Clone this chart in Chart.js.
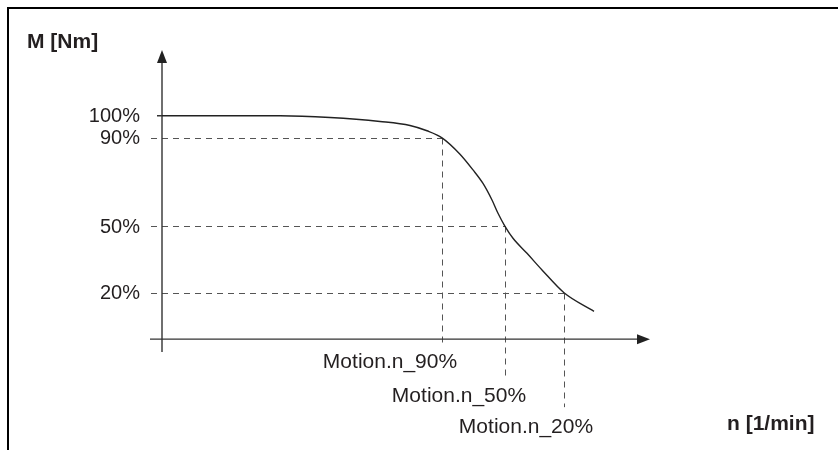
<!DOCTYPE html>
<html>
<head>
<meta charset="utf-8">
<script src="https://cdn.jsdelivr.net/npm/chart.js@4/dist/chart.umd.min.js"></script>
<style>
  body { margin: 0; background: #fff; }
  canvas { display: block; }
</style>
</head>
<body>
<canvas id="graf" width="838" height="450"></canvas>
<script>
// torque curve: speed n [1/min] and torque M [% of nominal]
var speed  = [0, 1180, 1680, 2180, 2480, 2650, 2800, 2980, 3110, 3210, 3300, 3360, 3430, 3510, 3650, 3800, 4020, 4320];
var torque = [100, 100, 99.2, 97.4, 95.6, 93.2, 90, 82.6, 75.5, 69.4, 61.9, 55.9, 50, 44.6, 37.8, 30.3, 20, 11.6];

// marked points on the curve
var markTorque = [90, 50, 20];
var markSpeed  = [2800, 3430, 4020];
var markLabels = ['Motion.n_90%', 'Motion.n_50%', 'Motion.n_20%'];

// y tick labels
var yTicks = [100, 90, 50, 20];
var yTickLabels = ['100%', '90%', '50%', '20%'];

var points = speed.map(function (n, i) {
    return { x: n, y: torque[i] };
});

// how far below the axis each vertical guide runs, and where its label sits
var guideEnd = [5, 39, 68];          // px below x axis
var labelDx  = [-52, -46, -38];      // label centre relative to guide
var labelBase = [29, 63, 94];        // label baseline below x axis

var ink = '#231f20';

function arrow(ctx, x, y, dir) {
    ctx.beginPath();
    if (dir === 'up') {
        ctx.moveTo(x, y);
        ctx.lineTo(x - 5, y + 13);
        ctx.lineTo(x + 5, y + 13);
    } else {
        ctx.moveTo(x, y);
        ctx.lineTo(x - 13, y - 5);
        ctx.lineTo(x - 13, y + 5);
    }
    ctx.closePath();
    ctx.fill();
}

var diagramPlugin = {
    id: 'diagram',
    beforeDatasetsDraw: function (chart) {
        var ctx = chart.ctx;
        var xs = chart.scales.x, ys = chart.scales.y;
        var area = chart.chartArea;
        var x0 = xs.getPixelForValue(0);
        var y0 = ys.getPixelForValue(-1);

        ctx.save();
        // frame
        ctx.strokeStyle = '#000';
        ctx.lineWidth = 2;
        ctx.beginPath();
        ctx.moveTo(8, 450);
        ctx.lineTo(8, 8);
        ctx.lineTo(838, 8);
        ctx.stroke();

        // dashed guides
        ctx.strokeStyle = '#555';
        ctx.lineWidth = 1;
        ctx.setLineDash([6, 5]);
        markTorque.forEach(function (m, i) {
            var py = Math.round(ys.getPixelForValue(m)) + 0.5;
            var px = Math.round(xs.getPixelForValue(markSpeed[i])) + 0.5;
            ctx.beginPath();
            ctx.moveTo(area.left + 1, py);
            ctx.lineTo(px, py);
            ctx.stroke();
            ctx.beginPath();
            ctx.moveTo(px, py);
            ctx.lineTo(px, y0 + guideEnd[i]);
            ctx.stroke();
        });
        ctx.setLineDash([]);

        // axes
        ctx.strokeStyle = '#333';
        ctx.fillStyle = '#222';
        ctx.lineWidth = 1.4;
        ctx.beginPath();
        ctx.moveTo(x0, area.bottom);
        ctx.lineTo(x0, area.top + 8);
        ctx.moveTo(area.left, y0);
        ctx.lineTo(area.right - 8, y0);
        // 100% tick
        var p100 = ys.getPixelForValue(100);
        ctx.moveTo(x0 - 5, p100);
        ctx.lineTo(x0, p100);
        ctx.stroke();
        arrow(ctx, x0, area.top, 'up');
        arrow(ctx, area.right, y0, 'right');
        ctx.restore();
    },
    afterDraw: function (chart) {
        var ctx = chart.ctx;
        var xs = chart.scales.x, ys = chart.scales.y;
        var y0 = ys.getPixelForValue(-1);
        ctx.save();
        ctx.fillStyle = ink;

        ctx.font = '20px "Liberation Sans", Arial, sans-serif';
        ctx.textAlign = 'right';
        ctx.textBaseline = 'middle';
        yTicks.forEach(function (v, i) {
            ctx.fillText(yTickLabels[i], 140, ys.getPixelForValue(v) + 1);
        });

        ctx.font = '21px "Liberation Sans", Arial, sans-serif';
        ctx.textAlign = 'center';
        ctx.textBaseline = 'alphabetic';
        markSpeed.forEach(function (n, i) {
            ctx.fillText(markLabels[i], xs.getPixelForValue(n) + labelDx[i], y0 + labelBase[i]);
        });

        ctx.font = 'bold 21px "Liberation Sans", Arial, sans-serif';
        ctx.textAlign = 'left';
        ctx.fillText('M [Nm]', 27, 48);
        ctx.fillText('n [1/min]', 727, 430);
        ctx.restore();
    }
};

var ctx = document.getElementById('graf').getContext('2d');
var myChart = new Chart(ctx, {
    type: 'line',
    data: {
        datasets: [{
            label: 'M',
            data: points,
            borderColor: '#222',
            borderWidth: 1.4,
            pointRadius: 0,
            fill: false,
            cubicInterpolationMode: 'monotone'
        }]
    },
    options: {
        responsive: false,
        animation: false,
        devicePixelRatio: 1,
        layout: { padding: { left: 150, right: 188, top: 50, bottom: 98 } },
        plugins: {
            legend: { display: false },
            tooltip: { enabled: false }
        },
        scales: {
            x: { type: 'linear', min: -120, max: 4880, display: false },
            y: { type: 'linear', min: -6.8, max: 129.7, display: false }
        }
    },
    plugins: [diagramPlugin]
});
</script>
</body>
</html>
